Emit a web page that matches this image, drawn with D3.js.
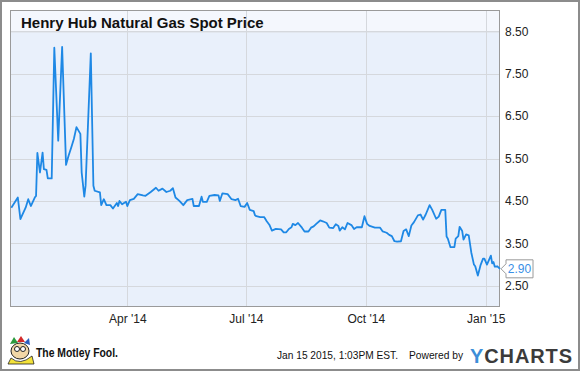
<!DOCTYPE html>
<html>
<head>
<meta charset="utf-8">
<script src="https://cdn.jsdelivr.net/npm/d3@7"></script>
<style>
  html, body { margin: 0; padding: 0; background: #fff; }
  svg { display: block; font-family: "Liberation Sans", Arial, sans-serif; }
</style>
</head>
<body>
<svg id="chart" width="580" height="371"></svg>
<script>
const title = "Henry Hub Natural Gas Spot Price";
const dates = [
  "2014-01-02","2014-01-07","2014-01-09","2014-01-10","2014-01-13","2014-01-15","2014-01-17","2014-01-20","2014-01-21","2014-01-22",
  "2014-01-24","2014-01-26","2014-01-27","2014-01-29","2014-01-30","2014-02-02","2014-02-04","2014-02-07","2014-02-10","2014-02-13",
  "2014-02-15","2014-02-17","2014-02-19","2014-02-21","2014-02-24","2014-02-25","2014-02-27","2014-02-28","2014-03-04","2014-03-06",
  "2014-03-07","2014-03-11","2014-03-12","2014-03-14","2014-03-16","2014-03-19","2014-03-21","2014-03-24","2014-03-25","2014-03-26",
  "2014-03-28","2014-03-31","2014-04-01","2014-04-03","2014-04-06","2014-04-09","2014-04-13","2014-04-15","2014-04-19","2014-04-23",
  "2014-04-25","2014-04-28","2014-05-01","2014-05-04","2014-05-06","2014-05-08","2014-05-11","2014-05-14","2014-05-17","2014-05-21",
  "2014-05-22","2014-05-26","2014-05-28","2014-05-29","2014-06-01","2014-06-03","2014-06-07","2014-06-10","2014-06-11","2014-06-13",
  "2014-06-17","2014-06-20","2014-06-23","2014-06-25","2014-06-27","2014-06-30","2014-07-02","2014-07-04","2014-07-07","2014-07-08",
  "2014-07-09","2014-07-12","2014-07-15","2014-07-17","2014-07-19","2014-07-21","2014-07-24","2014-07-28","2014-07-30","2014-08-01",
  "2014-08-03","2014-08-05","2014-08-06","2014-08-08","2014-08-10","2014-08-13","2014-08-15","2014-08-18","2014-08-20","2014-08-22",
  "2014-08-24","2014-08-27","2014-08-29","2014-09-01","2014-09-03","2014-09-06","2014-09-08","2014-09-10","2014-09-11","2014-09-13",
  "2014-09-15","2014-09-17","2014-09-20","2014-09-22","2014-09-24","2014-09-28","2014-09-30","2014-10-02","2014-10-04","2014-10-08",
  "2014-10-12","2014-10-14","2014-10-17","2014-10-19","2014-10-21","2014-10-23","2014-10-25","2014-10-28","2014-10-30","2014-11-01",
  "2014-11-03","2014-11-05","2014-11-07","2014-11-10","2014-11-12","2014-11-14","2014-11-16","2014-11-19","2014-11-21","2014-11-24",
  "2014-11-26","2014-11-28","2014-12-01","2014-12-02","2014-12-03","2014-12-05","2014-12-08","2014-12-09","2014-12-11","2014-12-12",
  "2014-12-14","2014-12-15","2014-12-17","2014-12-19","2014-12-21","2014-12-23","2014-12-24","2014-12-26","2014-12-28","2014-12-30",
  "2014-12-31","2015-01-02","2015-01-05","2015-01-06","2015-01-07","2015-01-08","2015-01-10","2015-01-12"
];
const prices = [
  4.34,4.58,4.07,4.14,4.34,4.54,4.38,4.58,4.62,5.63,
  5.17,5.64,5.25,5.23,5.03,5.03,8.11,5.92,8.13,5.35,
  5.57,5.76,5.96,6.24,6.08,5.17,4.60,4.86,7.98,4.86,
  4.74,4.70,4.40,4.54,4.40,4.40,4.32,4.45,4.38,4.50,
  4.42,4.48,4.38,4.52,4.55,4.66,4.63,4.62,4.71,4.81,
  4.74,4.79,4.71,4.74,4.80,4.58,4.50,4.40,4.52,4.55,
  4.38,4.38,4.60,4.48,4.48,4.62,4.64,4.63,4.50,4.68,
  4.66,4.54,4.52,4.55,4.38,4.36,4.45,4.29,4.26,4.16,
  4.14,4.12,4.12,4.02,3.94,3.80,3.84,3.83,3.76,3.76,
  3.84,3.88,3.96,3.93,3.98,3.87,3.78,3.78,3.87,3.90,
  3.96,4.04,4.02,3.98,3.87,3.86,3.95,3.91,3.80,3.88,
  3.83,3.98,3.93,3.84,3.88,3.88,4.14,3.96,3.91,3.87,
  3.87,3.78,3.75,3.70,3.67,3.55,3.54,3.55,3.79,3.83,
  3.67,3.92,4.00,4.16,4.18,4.06,4.18,4.40,4.29,4.08,
  4.13,4.29,4.29,3.66,3.61,3.41,3.41,3.61,3.67,3.89,
  3.79,3.59,3.71,3.69,3.28,3.00,2.96,2.74,2.98,3.14,
  3.14,3.00,3.21,3.03,3.06,2.95,2.96,2.90
];
const yTicks = [2.5, 3.5, 4.5, 5.5, 6.5, 7.5, 8.5];
const xTickDates = ["2014-04-01", "2014-07-01", "2014-10-01", "2015-01-01"];
const xTickLabels = ["Apr '14", "Jul '14", "Oct '14", "Jan '15"];
const lastLabel = "2.90";
const stamp = "Jan 15 2015, 1:03PM EST.";
const powered = "Powered by";
const brand = "The Motley Fool.";

const parse = d3.timeParse("%Y-%m-%d");
const data = dates.map((d, i) => ({ date: parse(d), value: prices[i] }));

const svg = d3.select("#chart");
const L = 10, R = 500, T = 10, B = 307, titleB = 32;

const x = d3.scaleTime()
  .domain([parse("2014-01-01"), parse("2015-01-12")])
  .range([L, R]);
const y = d3.scaleLinear().domain([2.0, 9.0]).range([B, T]);

// outer border
svg.append("rect").attr("x", 1).attr("y", 1).attr("width", 578).attr("height", 369)
  .attr("fill", "#fff").attr("stroke", "#8c8c8c").attr("stroke-width", 2);

// plot background
svg.append("rect").attr("x", L).attr("y", T).attr("width", R - L).attr("height", B - T)
  .attr("fill", "#e9f0fb");
svg.append("rect").attr("x", L).attr("y", T).attr("width", R - L).attr("height", titleB - T)
  .attr("fill", "#f4f7fd");
svg.append("line").attr("x1", L).attr("x2", R).attr("y1", titleB + 0.5).attr("y2", titleB + 0.5)
  .attr("stroke", "#e2e7ef");

// horizontal gridlines
svg.append("g").selectAll("line").data(yTicks).join("line")
  .attr("x1", L).attr("x2", R)
  .attr("y1", d => Math.round(y(d)) + 0.5).attr("y2", d => Math.round(y(d)) + 0.5)
  .attr("stroke", "#d5d8dd").attr("stroke-width", 1);

// vertical gridlines
const xTickVals = xTickDates.map(parse);
svg.append("g").selectAll("line").data(xTickVals).join("line")
  .attr("x1", d => Math.round(x(d)) + 0.5).attr("x2", d => Math.round(x(d)) + 0.5)
  .attr("y1", T).attr("y2", B)
  .attr("stroke", "#d5d8dd").attr("stroke-width", 1);

// plot border
svg.append("rect").attr("x", L + 0.5).attr("y", T + 0.5).attr("width", R - L - 1).attr("height", B - T - 1)
  .attr("fill", "none").attr("stroke", "#9a9a9a");

// title
svg.append("text").attr("x", 21).attr("y", 28)
  .attr("font-size", 15).attr("font-weight", "bold").attr("fill", "#111")
  .text(title);

// line
const line = d3.line().x(d => x(d.date)).y(d => y(d.value));
svg.append("path").datum(data)
  .attr("d", line).attr("fill", "none")
  .attr("stroke", "#1e88e5").attr("stroke-width", 1.8)
  .attr("stroke-linejoin", "round");

// y axis (right)
const yAxis = d3.axisRight(y).tickValues(yTicks).tickFormat(d3.format(".2f")).tickSize(0).tickPadding(0);
const gy = svg.append("g").attr("transform", `translate(505,0)`).call(yAxis);
gy.select(".domain").remove();
gy.selectAll("text").attr("font-size", 12).attr("fill", "#222")
  .attr("font-family", "Liberation Sans, Arial, sans-serif");

// x axis
const xAxis = d3.axisBottom(x).tickValues(xTickVals)
  .tickFormat((d, i) => xTickLabels[i]).tickSize(0).tickPadding(0);
const gx = svg.append("g").attr("transform", `translate(0,${B + 7})`).call(xAxis);
gx.select(".domain").remove();
gx.selectAll("text").attr("font-size", 12).attr("fill", "#222")
  .attr("font-family", "Liberation Sans, Arial, sans-serif");

// last value callout
const last = data[data.length - 1];
const lx = x(last.date), ly = y(last.value);
const bx = lx + 6, bw = 27, bh = 18;
svg.append("path")
  .attr("d", `M${lx + 1},${ly} L${bx},${ly - 5} L${bx},${ly - bh / 2} L${bx + bw},${ly - bh / 2} L${bx + bw},${ly + bh / 2} L${bx},${ly + bh / 2} L${bx},${ly + 5} Z`)
  .attr("fill", "#fff").attr("stroke", "#9a9a9a");
svg.append("text").attr("x", bx + bw / 2).attr("y", ly + 4.5)
  .attr("text-anchor", "middle").attr("font-size", 12).attr("fill", "#3a8fe6")
  .text(lastLabel);

// footer: Motley Fool logo
const logo = svg.append("g").attr("transform", "translate(8,336)");
logo.append("rect").attr("width", 26).attr("height", 28).attr("fill", "#fff");
logo.append("path").attr("d", "M2,8 L6,1 L10,7 Z").attr("fill", "#2a9a3c");
logo.append("path").attr("d", "M9,6 L13,0 L17,6 Z").attr("fill", "#d42a2a");
logo.append("path").attr("d", "M16,7 L21,2 L22,9 Z").attr("fill", "#2a5fc0");
logo.append("ellipse").attr("cx", 12).attr("cy", 15).attr("rx", 9).attr("ry", 8).attr("fill", "#f2d7a6").attr("stroke", "#222").attr("stroke-width", 1);
logo.append("circle").attr("cx", 9).attr("cy", 13).attr("r", 2.5).attr("fill", "#fff").attr("stroke", "#222");
logo.append("circle").attr("cx", 15).attr("cy", 13).attr("r", 2.5).attr("fill", "#fff").attr("stroke", "#222");
logo.append("path").attr("d", "M3,22 Q12,30 24,20 L26,28 L0,28 Z").attr("fill", "#f3e23a").attr("stroke", "#222").attr("stroke-width", 0.8);
svg.append("text").attr("x", 36).attr("y", 357)
  .attr("font-size", 12).attr("font-weight", "bold").attr("fill", "#111")
  .attr("textLength", 82).attr("lengthAdjust", "spacingAndGlyphs")
  .text(brand);

// footer: timestamp / powered by
svg.append("text").attr("x", 277).attr("y", 359)
  .attr("font-size", 11).attr("fill", "#111")
  .attr("textLength", 121).attr("lengthAdjust", "spacingAndGlyphs")
  .text(stamp);
svg.append("text").attr("x", 409).attr("y", 359)
  .attr("font-size", 11).attr("fill", "#111")
  .attr("textLength", 54).attr("lengthAdjust", "spacingAndGlyphs")
  .text(powered);

// YCHARTS logo
const yc = svg.append("text").attr("x", 470).attr("y", 363)
  .attr("font-size", 20).attr("font-weight", "bold")
  .attr("textLength", 102).attr("lengthAdjust", "spacing");
yc.append("tspan").attr("fill", "#3d8ed8").text("Y");
yc.append("tspan").attr("fill", "#3b3b3b").text("CHARTS");
</script>
</body>
</html>
